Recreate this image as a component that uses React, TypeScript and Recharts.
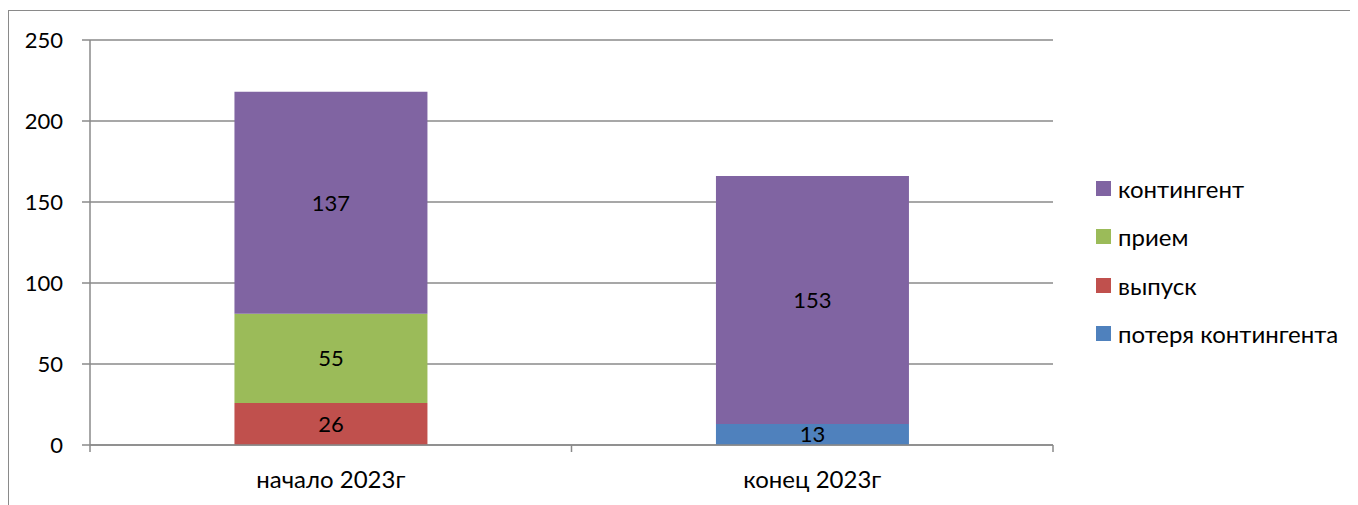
import { BarChart, Bar, XAxis, YAxis, CartesianGrid, LabelList } from "recharts";

document.documentElement.style.overflow = "hidden";

const periods = ["начало 2023г", "конец 2023г"];
const loss = [0, 13];
const graduation = [26, 0];
const admission = [55, 0];
const contingent = [137, 153];
const yTicks = [0, 50, 100, 150, 200, 250];

// stacking order: bottom to top
const series = [
  { key: "loss", name: "потеря контингента", color: "#4F81BD" },
  { key: "graduation", name: "выпуск", color: "#C0504D" },
  { key: "admission", name: "прием", color: "#9BBB59" },
  { key: "contingent", name: "контингент", color: "#8064A2" },
];

// numeric x so tick marks can sit on category boundaries (Excel style)
const data = periods.map((period, i) => ({
  period,
  pos: i + 0.5,
  loss: loss[i],
  graduation: graduation[i],
  admission: admission[i],
  contingent: contingent[i],
}));
const xTicks = [0, 0.5, 1, 1.5, 2];

const FONT = "Lato, 'Open Sans', sans-serif";
const GRAY = "#8a8a8a";
const NUM_FS = 22;
const TEXT_FS = 24;

function XTick(props: any) {
  const { x, y, payload } = props;
  const v = payload.value;
  if (Number.isInteger(v)) {
    return <line x1={x} x2={x} y1={y} y2={y + 7} stroke={GRAY} strokeWidth={1.5} />;
  }
  return (
    <text x={x} y={y + 26} dy="0.71em" textAnchor="middle" fill="#000" fontSize={TEXT_FS} fontFamily={FONT}>
      {periods[Math.floor(v)]}
    </text>
  );
}

export default function App() {
  return (
    <div
      style={{
        position: "relative",
        marginTop: 2,
        width: 1349,
        height: 494,
        borderLeft: `1px solid ${GRAY}`,
        borderTop: `1px solid ${GRAY}`,
        fontFamily: FONT,
        background: "#fff",
      }}
    >
      <BarChart
        width={1349}
        height={494}
        data={data}
        barCategoryGap="30%"
        margin={{ top: 29, right: 305, left: 0, bottom: 0 }}
      >
        <CartesianGrid vertical={false} stroke={GRAY} strokeWidth={1.5} />
        <XAxis
          dataKey="pos"
          type="number"
          domain={[0, 2]}
          ticks={xTicks}
          interval={0}
          allowDecimals
          tickLine={false}
          tickSize={0}
          tickMargin={0}
          tick={<XTick />}
          axisLine={{ stroke: GRAY, strokeWidth: 1.5 }}
          height={60}
        />
        <YAxis
          type="number"
          domain={[0, 250]}
          ticks={yTicks}
          interval={0}
          width={81}
          tickSize={8}
          tickMargin={19}
          axisLine={{ stroke: GRAY, strokeWidth: 1.5 }}
          tickLine={{ stroke: GRAY, strokeWidth: 1.5 }}
          tick={{ fill: "#000", fontSize: NUM_FS, fontFamily: FONT }}
        />
        {series.map((s) => (
          <Bar
            key={s.key}
            dataKey={s.key}
            name={s.name}
            stackId="a"
            fill={s.color}
            isAnimationActive={false}
          >
            <LabelList
              dataKey={s.key}
              position="center"
              fill="#000"
              fontSize={NUM_FS}
              fontFamily={FONT}
              formatter={(v: any) => (v ? v : "")}
            />
          </Bar>
        ))}
      </BarChart>
      <div style={{ position: "absolute", left: 1087, top: 153 }}>
        {[...series].reverse().map((s) => (
          <div
            key={s.key}
            style={{ height: 48.5, display: "flex", alignItems: "center", fontSize: TEXT_FS, color: "#000" }}
          >
            <span style={{ width: 15, height: 15, background: s.color, marginRight: 7, display: "inline-block" }} />
            <span>{s.name}</span>
          </div>
        ))}
      </div>
    </div>
  );
}
